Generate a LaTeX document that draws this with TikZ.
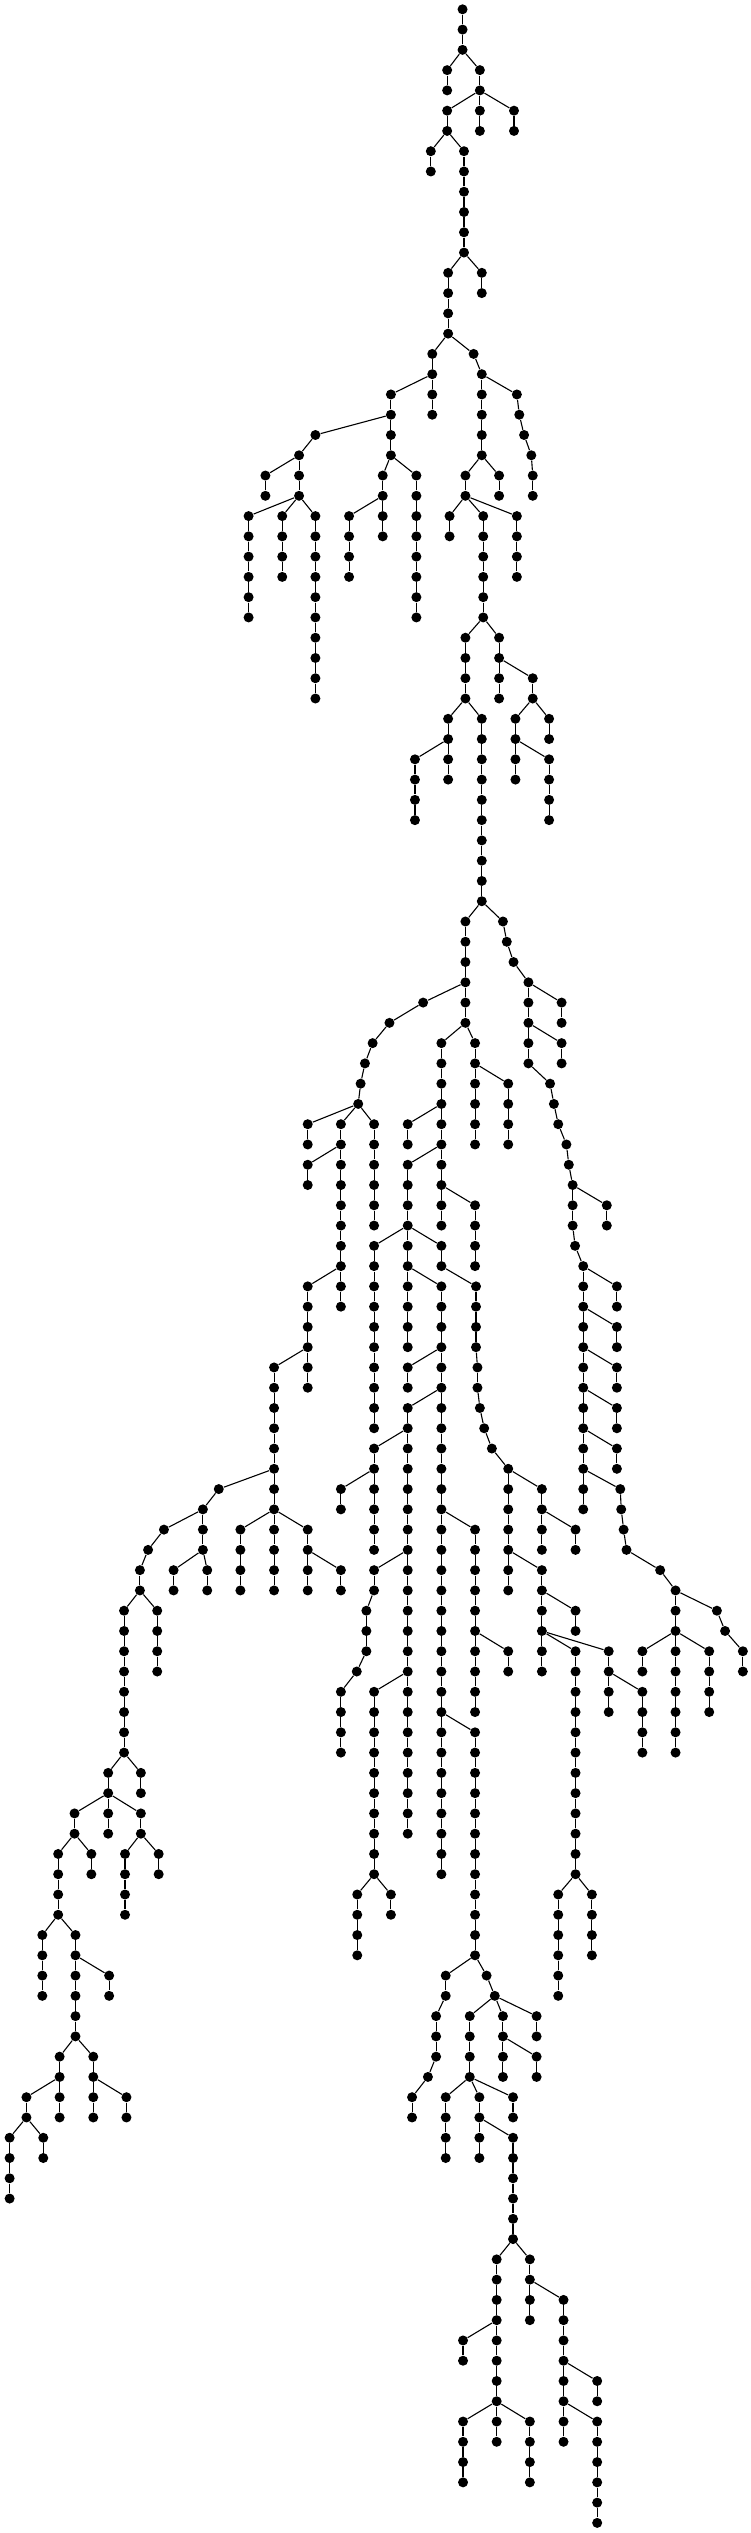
\documentclass[tikz,border=0pt]{standalone}
\begin{document}
\tikzset{dot/.style={circle,fill=black,draw=none,inner sep=0pt,minimum size=5pt},
 edge/.style={line width=0.55pt,black}}
\newcommand\tchain[4]{%
  \foreach \ii in {#3,...,#4}{\node[dot] (n#2-\ii) at (#2,\ii) {};}%
  \draw[edge] (#1) -- (n#2-#3);%
  \ifnum#3<#4\relax
    \pgfmathtruncatemacro\ff{#3+1}%
    \foreach \ii in {\ff,...,#4}{\pgfmathtruncatemacro\pp{\ii-1}\draw[edge] (n#2-\pp) -- (n#2-\ii);}%
  \fi}
\begin{tikzpicture}[x=0.2404pt,y=-10.135pt]
\fill[white] (0,-0.4588) rectangle (1560,124.50);
\useasboundingbox (0,-0.4588) rectangle (1560,124.50);
\node[dot] (n962-0) at (962,0) {};
\tchain{n962-0}{962}{1}{2}
\tchain{n962-2}{930}{3}{4}
\tchain{n962-2}{998}{3}{4}
\tchain{n998-4}{930}{5}{6}
\tchain{n998-4}{998}{5}{6}
\tchain{n998-4}{1069}{5}{6}
\tchain{n930-6}{896}{7}{8}
\tchain{n930-6}{965}{7}{12}
\tchain{n965-12}{932}{13}{16}
\tchain{n965-12}{1002}{13}{14}
\tchain{n932-16}{899}{17}{18}
\tchain{n932-16}{985}{17}{17}
\tchain{n985-17}{1002}{18}{22}
\tchain{n1002-18}{1075}{19}{19}
\tchain{n1075-19}{1080}{20}{20}
\tchain{n1080-20}{1090}{21}{21}
\tchain{n1090-21}{1105}{22}{22}
\tchain{n1105-22}{1108}{23}{24}
\tchain{n899-18}{813}{19}{22}
\tchain{n899-18}{899}{19}{20}
\tchain{n813-20}{656}{21}{21}
\tchain{n656-21}{622}{22}{24}
\tchain{n622-22}{552}{23}{24}
\tchain{n622-24}{517}{25}{30}
\tchain{n622-24}{587}{25}{28}
\tchain{n622-24}{656}{25}{34}
\tchain{n813-22}{796}{23}{24}
\tchain{n813-22}{866}{23}{30}
\tchain{n796-24}{726}{25}{28}
\tchain{n796-24}{796}{25}{26}
\tchain{n1002-22}{968}{23}{24}
\tchain{n1002-22}{1038}{23}{24}
\tchain{n968-24}{935}{25}{26}
\tchain{n968-24}{1005}{25}{30}
\tchain{n968-24}{1075}{25}{28}
\tchain{n1005-30}{968}{31}{34}
\tchain{n1005-30}{1038}{31}{34}
\tchain{n1038-32}{1108}{33}{34}
\tchain{n1108-34}{1072}{35}{38}
\tchain{n1108-34}{1142}{35}{36}
\tchain{n1072-36}{1142}{37}{40}
\tchain{n968-34}{932}{35}{38}
\tchain{n968-34}{1002}{35}{44}
\tchain{n932-36}{863}{37}{40}
\tchain{n1002-44}{968}{45}{50}
\tchain{n1002-44}{1046}{45}{45}
\tchain{n1046-45}{1054}{46}{46}
\tchain{n1054-46}{1068}{47}{47}
\tchain{n1068-47}{1099}{48}{52}
\tchain{n1099-48}{1168}{49}{50}
\tchain{n1099-50}{1168}{51}{52}
\tchain{n1099-52}{1144}{53}{53}
\tchain{n1144-53}{1152}{54}{54}
\tchain{n1152-54}{1161}{55}{55}
\tchain{n1161-55}{1178}{56}{56}
\tchain{n1178-56}{1183}{57}{57}
\tchain{n1183-57}{1191}{58}{60}
\tchain{n1191-58}{1262}{59}{60}
\tchain{n1191-60}{1196}{61}{61}
\tchain{n1196-61}{1213}{62}{74}
\tchain{n1213-62}{1283}{63}{64}
\tchain{n1213-64}{1283}{65}{66}
\tchain{n1213-66}{1283}{67}{68}
\tchain{n1213-68}{1283}{69}{70}
\tchain{n1213-70}{1283}{71}{72}
\tchain{n1213-72}{1290}{73}{73}
\tchain{n1290-73}{1292}{74}{74}
\tchain{n1292-74}{1297}{75}{75}
\tchain{n1297-75}{1303}{76}{76}
\tchain{n1303-76}{1373}{77}{77}
\tchain{n1373-77}{1405}{78}{86}
\tchain{n1405-78}{1491}{79}{79}
\tchain{n1491-79}{1508}{80}{80}
\tchain{n1508-80}{1545}{81}{82}
\tchain{n1405-80}{1336}{81}{82}
\tchain{n1405-80}{1475}{81}{84}
\tchain{n968-48}{880}{49}{49}
\tchain{n880-49}{810}{50}{50}
\tchain{n810-50}{775}{51}{51}
\tchain{n775-51}{759}{52}{52}
\tchain{n759-52}{750}{53}{53}
\tchain{n750-53}{745}{54}{54}
\tchain{n745-54}{640}{55}{56}
\tchain{n745-54}{709}{55}{64}
\tchain{n745-54}{778}{55}{60}
\tchain{n709-56}{640}{57}{58}
\tchain{n709-62}{640}{63}{68}
\tchain{n640-66}{570}{67}{78}
\tchain{n570-72}{455}{73}{73}
\tchain{n455-73}{422}{74}{76}
\tchain{n422-74}{341}{75}{75}
\tchain{n341-75}{308}{76}{76}
\tchain{n308-76}{291}{77}{78}
\tchain{n291-78}{258}{79}{86}
\tchain{n291-78}{327}{79}{82}
\tchain{n422-76}{361}{77}{78}
\tchain{n422-76}{431}{77}{78}
\tchain{n570-74}{500}{75}{78}
\tchain{n570-74}{640}{75}{78}
\tchain{n640-76}{709}{77}{78}
\tchain{n258-86}{225}{87}{90}
\tchain{n258-86}{293}{87}{88}
\tchain{n225-88}{155}{89}{90}
\tchain{n225-88}{293}{89}{90}
\tchain{n155-90}{121}{91}{94}
\tchain{n155-90}{190}{91}{92}
\tchain{n293-90}{260}{91}{94}
\tchain{n293-90}{330}{91}{92}
\tchain{n121-94}{88}{95}{98}
\tchain{n121-94}{157}{95}{100}
\tchain{n157-96}{227}{97}{98}
\tchain{n157-100}{124}{101}{104}
\tchain{n157-100}{194}{101}{104}
\tchain{n124-102}{55}{103}{104}
\tchain{n194-102}{263}{103}{104}
\tchain{n55-104}{20}{105}{108}
\tchain{n55-104}{90}{105}{106}
\tchain{n968-50}{918}{51}{60}
\tchain{n968-50}{988}{51}{56}
\tchain{n988-52}{1057}{53}{56}
\tchain{n918-54}{848}{55}{56}
\tchain{n918-56}{848}{57}{66}
\tchain{n918-58}{988}{59}{62}
\tchain{n848-60}{778}{61}{70}
\tchain{n848-60}{918}{61}{62}
\tchain{n918-62}{990}{63}{66}
\tchain{n990-66}{993}{67}{68}
\tchain{n993-68}{998}{69}{69}
\tchain{n998-69}{1007}{70}{70}
\tchain{n1007-70}{1023}{71}{71}
\tchain{n1023-71}{1057}{72}{78}
\tchain{n1057-72}{1127}{73}{76}
\tchain{n1127-74}{1197}{75}{76}
\tchain{n1057-76}{1127}{77}{82}
\tchain{n1127-78}{1197}{79}{80}
\tchain{n1127-80}{1197}{81}{92}
\tchain{n1127-80}{1266}{81}{84}
\tchain{n1266-82}{1336}{83}{86}
\tchain{n1197-92}{1161}{93}{98}
\tchain{n1197-92}{1231}{93}{96}
\tchain{n848-62}{918}{63}{92}
\tchain{n918-66}{848}{67}{68}
\tchain{n918-68}{848}{69}{90}
\tchain{n848-70}{778}{71}{76}
\tchain{n778-72}{709}{73}{74}
\tchain{n848-76}{778}{77}{78}
\tchain{n778-78}{762}{79}{81}
\tchain{n762-81}{742}{82}{82}
\tchain{n742-82}{709}{83}{86}
\tchain{n848-82}{778}{83}{92}
\tchain{n778-92}{743}{93}{96}
\tchain{n778-92}{813}{93}{94}
\tchain{n918-74}{988}{75}{84}
\tchain{n988-80}{1057}{81}{82}
\tchain{n918-84}{988}{85}{96}
\tchain{n988-96}{927}{97}{98}
\tchain{n927-98}{907}{99}{101}
\tchain{n907-101}{890}{102}{102}
\tchain{n890-102}{857}{103}{104}
\tchain{n988-96}{1012}{97}{97}
\tchain{n1012-97}{1029}{98}{98}
\tchain{n1029-98}{977}{99}{102}
\tchain{n1029-98}{1046}{99}{102}
\tchain{n1029-98}{1116}{99}{100}
\tchain{n1046-100}{1116}{101}{102}
\tchain{n977-102}{927}{103}{106}
\tchain{n977-102}{997}{103}{106}
\tchain{n977-102}{1067}{103}{104}
\tchain{n997-104}{1067}{105}{110}
\tchain{n1067-110}{1033}{111}{120}
\tchain{n1033-114}{963}{115}{116}
\tchain{n1033-118}{963}{119}{122}
\tchain{n1033-118}{1102}{119}{122}
\tchain{n1067-110}{1102}{111}{114}
\tchain{n1102-112}{1172}{113}{120}
\tchain{n1172-116}{1242}{117}{118}
\tchain{n1172-118}{1242}{119}{124}
\end{tikzpicture}
\end{document}
